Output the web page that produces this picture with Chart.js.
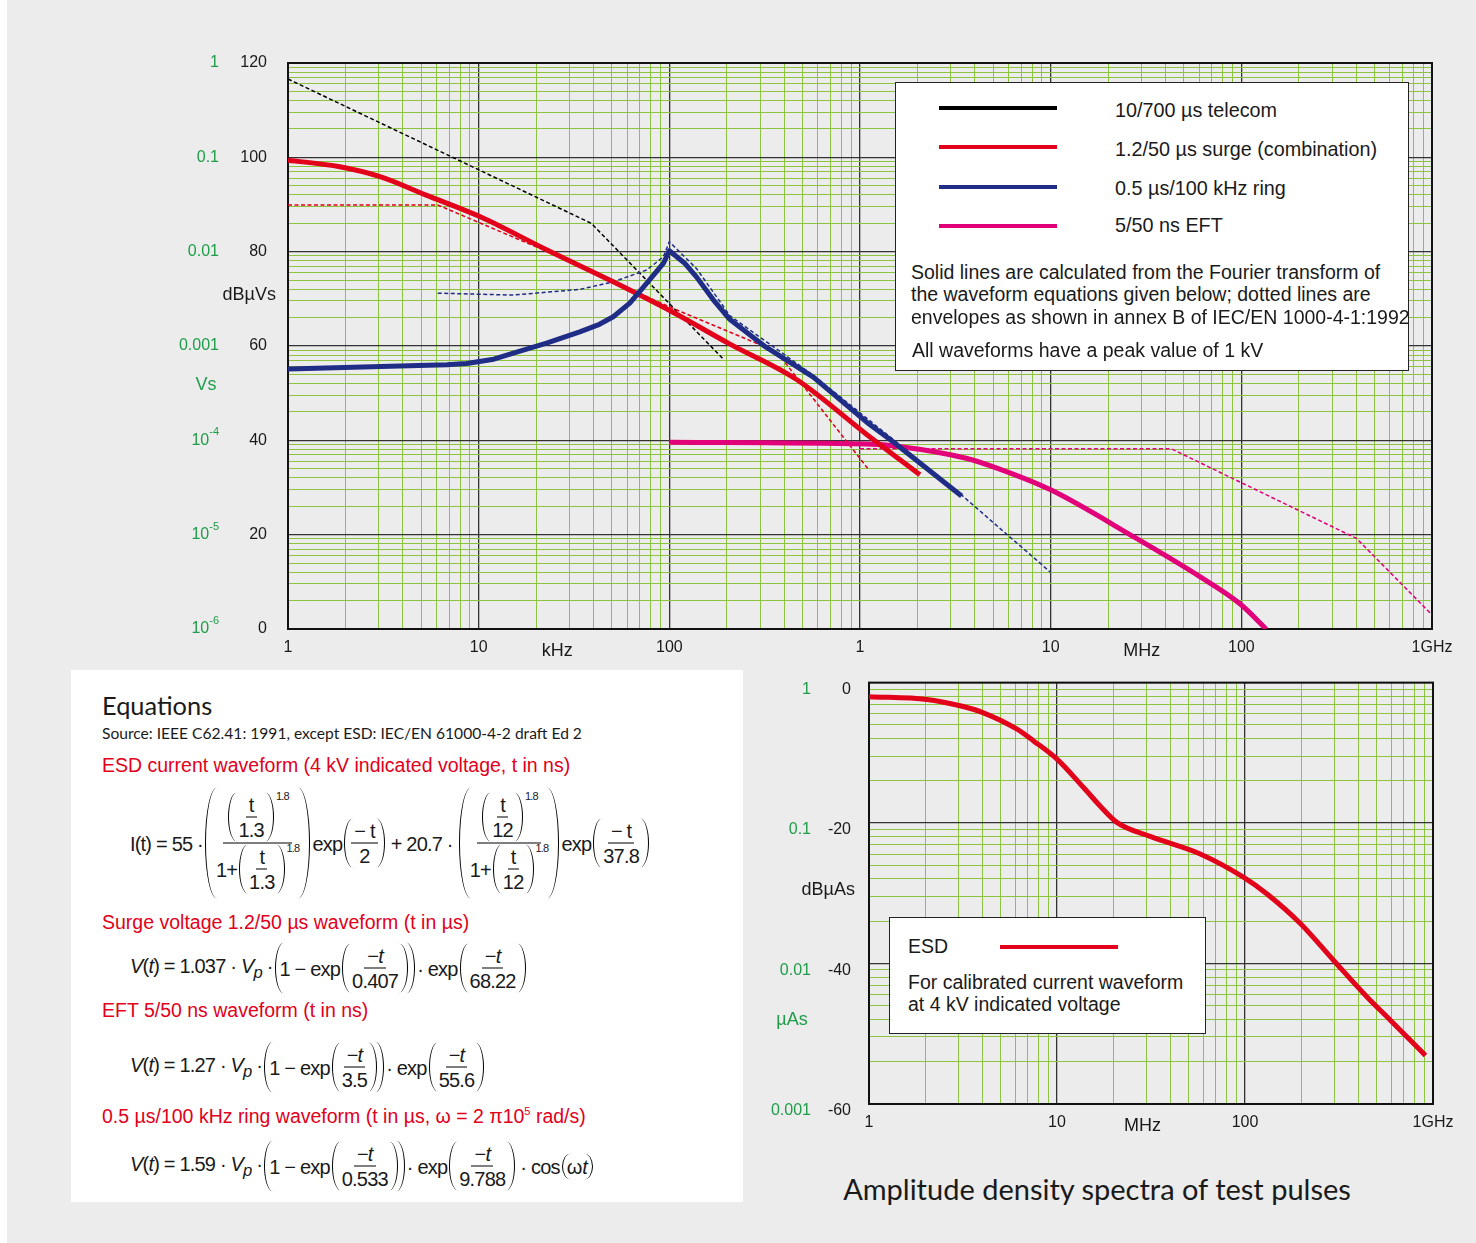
<!DOCTYPE html>
<html>
<head>
<meta charset="utf-8">
<script src="https://cdn.jsdelivr.net/npm/chart.js@4.4.0/dist/chart.umd.min.js"></script>
<style>
  html, body { margin: 0; padding: 0; background: #fff; }
  body { width: 1476px; height: 1243px; position: relative; overflow: hidden; font-family: 'Liberation Sans', Arial, sans-serif; color: #1a1a1a; }
  #panel { position: absolute; left: 7px; top: 0; width: 1469px; height: 1243px; background: #ebeceb; }
  canvas { position: absolute; }
  #topChart { left: 0; top: 0; }
  #bottomChart { left: 740px; top: 655px; }
  .box { position: absolute; background: #fff; border: 1px solid #222; }
  .t { position: absolute; white-space: nowrap; transform: translateY(-50%); line-height: 1; }
  .key { position: absolute; height: 4px; width: 118px; }
  #eqBox { position: absolute; left: 71px; top: 670px; width: 672px; height: 532px; background: #fff; }
  .lato { font-family: Lato, 'Open Sans', sans-serif; }
  .red { color: #e2001a; font-size: 19.5px; }
  .row { position: absolute; display: flex; align-items: center; white-space: nowrap; transform: translateY(-50%);
         font-size: 20px; letter-spacing: -0.8px; line-height: 1.1; }
  .fr { display: inline-flex; flex-direction: column; align-items: center; margin: 0 2px; }
  .fr > span:first-child { border-bottom: 1px solid #000; padding: 0 3px 1px; display: inline-flex; align-items: center; }
  .fr > span:last-child { padding: 1px 3px 0; display: inline-flex; align-items: center; }
  .p { display: inline-flex; align-items: center; border-left: 1.2px solid #000; border-right: 1.2px solid #000;
       border-radius: 9px / 50%; padding: 1px 4px; margin: 0 2px; }
  .pw { display: inline-flex; align-items: flex-start; }
  .pw > sup { font-size: 11px; margin-top: -3px; }
  .sp { margin: 0 4px; }
</style>
</head>
<body>
<div id="panel"></div>
<canvas id="topChart" width="1476" height="665"></canvas>

<div class="box" style="left:895px;top:82px;width:512px;height:287px;">
  <div class="key" style="left:43px;top:23px;background:#000;"></div>
  <div class="key" style="left:43px;top:62px;background:#e2001a;"></div>
  <div class="key" style="left:43px;top:102px;background:#1f2d86;"></div>
  <div class="key" style="left:43px;top:141px;background:#e2007a;"></div>
  <div class="t" style="left:219px;top:28px;font-size:19.8px;">10/700 µs telecom</div>
  <div class="t" style="left:219px;top:67px;font-size:19.8px;">1.2/50 µs surge (combination)</div>
  <div class="t" style="left:219px;top:106px;font-size:19.8px;">0.5 µs/100 kHz ring</div>
  <div class="t" style="left:219px;top:143px;font-size:19.8px;">5/50 ns EFT</div>
  <div class="t" style="left:15px;top:190px;font-size:19.5px;">Solid lines are calculated from the Fourier transform of</div>
  <div class="t" style="left:15px;top:212px;font-size:19.5px;">the waveform equations given below; dotted lines are</div>
  <div class="t" style="left:15px;top:235px;font-size:19.5px;">envelopes as shown in annex B of IEC/EN 1000-4-1:1992</div>
  <div class="t" style="left:16px;top:268px;font-size:19.5px;">All waveforms have a peak value of 1 kV</div>
</div>

<div id="eqBox">
  <div class="t lato" style="left:31px;top:36px;font-size:25.4px;">Equations</div>
  <div class="t lato" style="left:31px;top:64px;font-size:15.6px;">Source: IEEE C62.41: 1991, except ESD: IEC/EN 61000-4-2 draft Ed 2</div>
  <div class="t red" style="left:31px;top:96px;">ESD current waveform (4 kV indicated voltage, t in ns)</div>

  <div class="row" style="left:59px;top:173px;">
    <span>I(t) = 55 ·</span>
    <span class="p" style="border-radius:12px/50%;padding:5px 5px;">
      <span class="fr">
        <span><span class="pw"><span class="p"><span class="fr"><span>t</span><span>1.3</span></span></span><sup>1.8</sup></span></span>
        <span>1+<span class="pw"><span class="p"><span class="fr"><span>t</span><span>1.3</span></span></span><sup>1.8</sup></span></span>
      </span>
    </span>
    <span>exp</span>
    <span class="p"><span class="fr"><span>− t</span><span>2</span></span></span>
    <span class="sp">+ 20.7 ·</span>
    <span class="p" style="border-radius:12px/50%;padding:5px 5px;">
      <span class="fr">
        <span><span class="pw"><span class="p"><span class="fr"><span>t</span><span>12</span></span></span><sup>1.8</sup></span></span>
        <span>1+<span class="pw"><span class="p"><span class="fr"><span>t</span><span>12</span></span></span><sup>1.8</sup></span></span>
      </span>
    </span>
    <span>exp</span>
    <span class="p"><span class="fr"><span>− t</span><span>37.8</span></span></span>
  </div>

  <div class="t red" style="left:31px;top:253px;">Surge voltage 1.2/50 µs waveform (t in µs)</div>
  <div class="row" style="left:59px;top:298px;">
    <span><i>V</i>(<i>t</i>) = 1.037 · <i>V<sub>p</sub></i> ·</span>
    <span class="p">1 − exp<span class="p"><span class="fr"><span>− <i>t</i></span><span>0.407</span></span></span></span>
    <span>· exp</span>
    <span class="p"><span class="fr"><span>− <i>t</i></span><span>68.22</span></span></span>
  </div>

  <div class="t red" style="left:31px;top:341px;">EFT 5/50 ns waveform (t in ns)</div>
  <div class="row" style="left:59px;top:397px;">
    <span><i>V</i>(<i>t</i>) = 1.27 · <i>V<sub>p</sub></i> ·</span>
    <span class="p">1 − exp<span class="p"><span class="fr"><span>− <i>t</i></span><span>3.5</span></span></span></span>
    <span>· exp</span>
    <span class="p"><span class="fr"><span>− <i>t</i></span><span>55.6</span></span></span>
  </div>

  <div class="t red" style="left:31px;top:446px;">0.5 µs/100 kHz ring waveform (t in µs, ω = 2 π10<sup style="font-size:11px;">5</sup> rad/s)</div>
  <div class="row" style="left:59px;top:496px;">
    <span><i>V</i>(<i>t</i>) = 1.59 · <i>V<sub>p</sub></i> ·</span>
    <span class="p">1 − exp<span class="p"><span class="fr"><span>− <i>t</i></span><span>0.533</span></span></span></span>
    <span>· exp</span>
    <span class="p"><span class="fr"><span>− <i>t</i></span><span>9.788</span></span></span>
    <span style="margin-left:3px;">· cos</span><span class="p" style="padding:2px 4px;letter-spacing:0;">ω<i>t</i></span>
  </div>
</div>

<canvas id="bottomChart" width="736" height="485"></canvas>

<div class="box" style="left:889px;top:917px;width:315px;height:115px;">
  <div class="t" style="left:18px;top:29px;font-size:19.5px;">ESD</div>
  <div class="key" style="left:110px;top:27px;background:#e2001a;"></div>
  <div class="t" style="left:18px;top:65px;font-size:19.5px;">For calibrated current waveform</div>
  <div class="t" style="left:18px;top:87px;font-size:19.5px;">at 4 kV indicated voltage</div>
</div>

<div class="t lato" style="left:1097px;top:1188px;font-size:29px;transform:translate(-50%,-50%);">Amplitude density spectra of test pulses</div>

<script>
// ---- axes / tick labels ----
const topDecades = [1e3, 1e4, 1e5, 1e6, 1e7, 1e8, 1e9];
const topDecadeLabels = ['1', '10', '100', '1', '10', '100', '1GHz'];
const topDbTicks = [0, 20, 40, 60, 80, 100, 120];
const topVsLabels = ['10^-6', '10^-5', '10^-4', '0.001', '0.01', '0.1', '1'];

const bottomDecades = [1e6, 1e7, 1e8, 1e9];
const bottomDecadeLabels = ['1', '10', '100', '1GHz'];
const bottomDbTicks = [-60, -40, -20, 0];
const bottomAsLabels = ['0.001', '0.01', '0.1', '1'];

// ---- top chart series (frequency Hz, dBuVs) ----
const ringFreq = [1e3, 6.8e3, 8.65e3, 1.2e4, 1.52e4, 2.27e4, 3.39e4, 4.3e4, 5.08e4, 6.2e4, 7.6e4, 9.3e4, 1.0e5, 1.2e5, 1.39e5, 1.7e5, 2.08e5, 3.2e5, 5.69e5, 1.08e6, 1.49e6, 3.41e6];
const ringDb   = [55.1, 56.0, 56.3, 57.2, 58.5, 60.6, 63.0, 64.6, 66.2, 69.1, 73.3, 77.5, 80.2, 77.6, 74.6, 69.8, 65.6, 59.8, 53.4, 43.9, 39.7, 28.2];

const surgeFreq = [1e3, 1.87e3, 3.04e3, 5.3e3, 1.02e4, 2.27e4, 5.08e4, 1.05e5, 2.08e5, 4.65e5, 1.08e6, 2.06e6];
const surgeDb   = [99.4, 98.0, 95.9, 92.0, 87.4, 80.4, 73.6, 67.1, 60.4, 52.9, 41.3, 32.7];

const eftFreq = [1e5, 1.08e6, 1.6e6, 3.6e6, 5.4e6, 1.0e7, 2.71e7, 6.06e7, 9.8e7, 1.35e8];
const eftDb   = [39.6, 39.2, 38.7, 36.2, 33.9, 29.5, 19.6, 11.1, 5.4, 0.0];

const ringEnvFreq = [6.1e3, 1.52e4, 3.39e4, 5.08e4, 7.6e4, 9.3e4, 1.0e5, 1.39e5, 2.08e5, 5.69e5, 1.49e6, 3.41e6, 1.0e7];
const ringEnvDb   = [71.2, 70.8, 72.0, 73.6, 76.1, 78.9, 82.1, 76.4, 66.4, 53.8, 40.2, 28.4, 12.0];

const surgeEnvFreq = [1e3, 6.1e3, 2.09e4, 1.0e5, 3.65e5, 1.1e6];
const surgeEnvDb   = [89.9, 89.9, 80.7, 68.3, 58.8, 34.0];

const eftEnvFreq = [1e6, 4.3e7, 4.02e8, 1e9];
const eftEnvDb   = [38.2, 38.2, 19.2, 3.0];

const telecomEnvFreq = [1e3, 3.9e4, 1.9e5];
const telecomEnvDb   = [116.6, 86.0, 57.4];

// ---- bottom chart series (frequency Hz, dBuAs) ----
const esdFreq = [1e6, 2.03e6, 3.05e6, 4.06e6, 6.1e6, 7.5e6, 1.0e7, 1.38e7, 1.7e7, 2.08e7, 3.13e7, 5.78e7, 9.8e7, 1.31e8, 1.97e8, 2.97e8, 4.47e8, 5.95e8, 9.12e8];
const esdDb   = [-2.0, -2.4, -3.3, -4.3, -6.6, -8.3, -10.9, -14.9, -17.6, -19.9, -21.9, -24.4, -27.7, -30.1, -34.3, -39.6, -44.8, -48.1, -53.1];

const RED = '#e2001a', BLUE = '#1f2d86', MAGENTA = '#e2007a', BLACK = '#000';
const GRID_MINOR = '#8cc43f', GRID_MAJOR = '#333';
const GREEN_TXT = '#1f9d4a';

const pts = (f, v) => f.map((x, i) => ({ x: x, y: v[i] }));

function logTicks(lo, hi) {
  const t = [];
  for (let d = lo; d < hi; d *= 10) for (let k = 1; k < 10; k++) t.push({ value: d * k });
  t.push({ value: hi });
  return t;
}
function dbTicks(lo, hi) {
  const t = [];
  for (let b = lo; b < hi; b += 20) {
    t.push({ value: b });
    for (let k = 2; k < 10; k++) t.push({ value: b + 20 * Math.log10(k) });
  }
  t.push({ value: hi });
  return t;
}
const isDecade = v => Math.abs(Math.log10(v) - Math.round(Math.log10(v))) < 1e-6;
const isDb20 = v => Math.abs(v / 20 - Math.round(v / 20)) < 1e-6;

function solid(data, color, smooth) {
  const d = { data: data, borderColor: color, borderWidth: 5, pointRadius: 0, fill: false, borderCapStyle: 'butt', borderJoinStyle: 'round' };
  if (smooth) d.cubicInterpolationMode = 'monotone'; else d.tension = 0;
  return d;
}
function dotted(data, color) {
  return { data: data, borderColor: color, borderWidth: 1.5, borderDash: [4, 2.5], pointRadius: 0, fill: false, tension: 0 };
}

// draws frame, green side labels, axis titles
const sideText = {
  id: 'sideText',
  beforeDatasetsDraw(chart) {
    const a = chart.chartArea, ctx = chart.ctx;
    ctx.save();
    ctx.strokeStyle = '#111';
    ctx.lineWidth = 2;
    ctx.strokeRect(a.left, a.top, a.right - a.left, a.bottom - a.top);
    ctx.restore();
  },
  afterDraw(chart, args, o) {
    const a = chart.chartArea, ctx = chart.ctx, xs = chart.scales.x, ys = chart.scales.y;
    ctx.save();
    ctx.textBaseline = 'middle';
    const xr = a.left - o.greenRight;
    o.greenTicks.forEach((v, i) => {
      const y = ys.getPixelForValue(v) + (o.greenDy || 0);
      const lab = o.greenLabels[i];
      ctx.fillStyle = GREEN_TXT;
      ctx.textAlign = 'right';
      if (lab.indexOf('^') > 0) {
        const parts = lab.split('^');
        ctx.font = '11px "Liberation Sans"';
        const w = ctx.measureText(parts[1]).width;
        ctx.textAlign = 'left';
        ctx.fillText(parts[1], xr - w, y - 8);
        ctx.font = '16px "Liberation Sans"';
        ctx.textAlign = 'right';
        ctx.fillText(parts[0], xr - w, y);
      } else {
        ctx.font = '16px "Liberation Sans"';
        ctx.fillText(lab, xr, y);
      }
    });
    o.notes.forEach(n => {
      ctx.fillStyle = n.color || '#1a1a1a';
      ctx.font = (n.size || 18) + 'px "Liberation Sans"';
      ctx.textAlign = n.align || 'center';
      const x = n.xv !== undefined ? xs.getPixelForValue(n.xv) : a.left - n.dx;
      const y = n.yv !== undefined ? ys.getPixelForValue(n.yv) : a.bottom + n.dy;
      ctx.fillText(n.text, x, y);
    });
    ctx.restore();
  }
};

function makeChart(id, cfg) {
  return new Chart(document.getElementById(id), {
    type: 'line',
    data: { datasets: cfg.datasets },
    options: {
      responsive: false,
      animation: false,
      layout: { padding: cfg.padding },
      plugins: { legend: { display: false }, tooltip: { enabled: false }, sideText: cfg.side },
      scales: {
        x: {
          type: 'logarithmic', min: cfg.xMin, max: cfg.xMax,
          afterBuildTicks: s => { s.ticks = logTicks(cfg.xMin, cfg.xMax); },
          afterFit: s => { s.height = 36; },
          border: { display: false },
          grid: {
            drawTicks: false,
            color: c => isDecade(c.tick.value) ? GRID_MAJOR : GRID_MINOR,
            lineWidth: c => isDecade(c.tick.value) ? 1.3 : 1
          },
          ticks: {
            autoSkip: false, maxRotation: 0, padding: 9, color: '#1a1a1a',
            font: { family: 'Liberation Sans', size: 16 },
            callback: v => { const i = cfg.decades.indexOf(v); return i >= 0 ? cfg.decadeLabels[i] : ''; }
          }
        },
        y: {
          type: 'linear', min: cfg.yMin, max: cfg.yMax,
          afterBuildTicks: s => { s.ticks = dbTicks(cfg.yMin, cfg.yMax); },
          afterFit: s => { s.width = cfg.yWidth; },
          border: { display: false },
          grid: {
            drawTicks: false,
            color: c => isDb20(c.tick.value) ? GRID_MAJOR : GRID_MINOR,
            lineWidth: c => isDb20(c.tick.value) ? 1.3 : 1
          },
          ticks: {
            autoSkip: false, padding: cfg.yPad, labelOffset: cfg.yLabelOffset, color: '#1a1a1a',
            font: { family: 'Liberation Sans', size: 16 },
            callback: v => cfg.dbTicks.indexOf(Math.round(v * 1e6) / 1e6) >= 0 ? String(Math.round(v)) : ''
          }
        }
      }
    },
    plugins: [sideText]
  });
}

makeChart('topChart', {
  padding: { top: 63, right: 44, left: 0, bottom: 0 },
  xMin: 1e3, xMax: 1e9, yMin: 0, yMax: 120, yWidth: 288, yPad: 21, yLabelOffset: 0,
  decades: topDecades, decadeLabels: topDecadeLabels, dbTicks: topDbTicks,
  datasets: [
    solid(pts(ringFreq, ringDb), BLUE, false),
    solid(pts(surgeFreq, surgeDb), RED, true),
    solid(pts(eftFreq, eftDb), MAGENTA, true),
    dotted(pts(ringEnvFreq, ringEnvDb), BLUE),
    dotted(pts(surgeEnvFreq, surgeEnvDb), RED),
    dotted(pts(eftEnvFreq, eftEnvDb), MAGENTA),
    dotted(pts(telecomEnvFreq, telecomEnvDb), BLACK)
  ],
  side: {
    greenRight: 69, greenDy: 0, greenTicks: topDbTicks, greenLabels: topVsLabels,
    notes: [
      { text: 'dBµVs', yv: 70.8, dx: 12, align: 'right', size: 18 },
      { text: 'Vs', yv: 51.7, dx: 82, align: 'center', size: 18, color: GREEN_TXT },
      { text: 'kHz', xv: 2.58e4, dy: 22, size: 18 },
      { text: 'MHz', xv: 3.0e7, dy: 22, size: 18 }
    ]
  }
});

makeChart('bottomChart', {
  padding: { top: 22, right: 43, left: 0, bottom: 0 },
  xMin: 1e6, xMax: 1e9, yMin: -60, yMax: 0, yWidth: 129, yPad: 18, yLabelOffset: 7,
  decades: bottomDecades, decadeLabels: bottomDecadeLabels, dbTicks: bottomDbTicks,
  datasets: [
    solid(pts(esdFreq, esdDb), RED, true)
  ],
  side: {
    greenRight: 58, greenDy: 7, greenTicks: bottomDbTicks, greenLabels: bottomAsLabels,
    notes: [
      { text: 'dBµAs', yv: -29.6, dx: 14, align: 'right', size: 18 },
      { text: 'µAs', yv: -48.1, dx: 77, align: 'center', size: 18, color: GREEN_TXT },
      { text: 'MHz', xv: 2.85e7, dy: 22, size: 18 }
    ]
  }
});
</script>
</body>
</html>
